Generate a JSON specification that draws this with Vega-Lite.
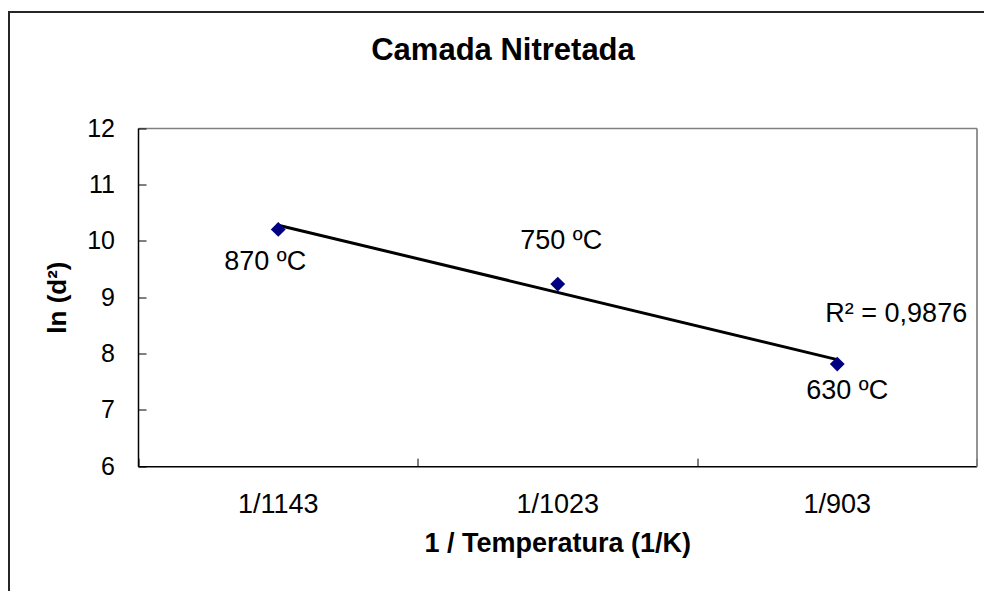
{
  "$schema": "https://vega.github.io/schema/vega-lite/v6.json",
  "autosize": {"type": "none"},
  "padding": {"left": 9, "top": 12, "right": 0, "bottom": 0},
  "width": 975,
  "height": 579,
  "background": "white",
  "config": {
    "view": {"stroke": "#262626", "strokeWidth": 2, "strokeDash": [975, 1554, 579, 2000]},
    "font": "Liberation Sans",
    "axis": {"translate": 0, "grid": false}
  },
  "title": {
    "text": "Camada Nitretada",
    "font": "Liberation Sans",
    "fontWeight": "bold",
    "fontSize": 31,
    "color": "black",
    "anchor": "middle",
    "frame": "group",
    "baseline": "alphabetic",
    "offset": -79,
    "dx": 6.5
  },
  "datasets": {
    "points": [
      {"t": "1/1143", "lnd2": 10.21, "temp": "870 ºC"},
      {"t": "1/1023", "lnd2": 9.24, "temp": "750 ºC"},
      {"t": "1/903", "lnd2": 7.82, "temp": "630 ºC"}
    ],
    "trend": [
      {"t": "1/1143", "lnd2": 10.285},
      {"t": "1/903", "lnd2": 7.9}
    ]
  },
  "layer": [
    {
      "data": {"name": "trend"},
      "mark": {"type": "line", "color": "black", "strokeWidth": 3},
      "encoding": {
        "x": {
          "field": "t", "type": "ordinal", "sort": ["1/1143", "1/1023", "1/903"],
          "scale": {"type": "band", "range": [129.5, 968], "paddingInner": 0, "paddingOuter": 0},
          "axis": {"orient": "top", "offset": -116.5, "domainColor": "#808080", "domainWidth": 1.7, "ticks": false, "labels": false, "title": null}
        },
        "y": {
          "field": "lnd2", "type": "quantitative",
          "scale": {"domain": [6, 12], "range": [454.7, 116.5], "nice": false, "zero": false},
          "axis": {"orient": "right", "offset": -7, "domainColor": "#808080", "domainWidth": 1.7, "ticks": false, "labels": false, "title": null}
        }
      }
    },
    {
      "data": {"name": "points"},
      "mark": {"type": "point", "shape": "diamond", "filled": true, "color": "#000080", "size": 220, "opacity": 1},
      "encoding": {
        "x": {
          "field": "t", "type": "ordinal", "sort": ["1/1143", "1/1023", "1/903"],
          "axis": {
            "orient": "bottom", "offset": -124.3, "tickBand": "extent",
            "domainColor": "black", "domainWidth": 1.5, "tickColor": "black", "tickSize": -8,
            "labelAngle": 0, "labelFont": "Liberation Sans", "labelFontSize": 27, "labelColor": "black", "labelPadding": 33,
            "title": "1 / Temperatura (1/K)", "titleFont": "Liberation Sans", "titleFontSize": 27, "titleFontWeight": "bold", "titleColor": "black", "titlePadding": 13
          }
        },
        "y": {
          "field": "lnd2", "type": "quantitative",
          "axis": {
            "orient": "left", "offset": -129.5, "values": [6, 7, 8, 9, 10, 11, 12],
            "domainColor": "black", "domainWidth": 1.5, "tickColor": "black", "tickSize": -8,
            "labelFont": "Liberation Sans", "labelFontSize": 25, "labelColor": "black", "labelPadding": 31.5,
            "title": "ln (d²)", "titleFont": "Liberation Sans", "titleFontSize": 26, "titleFontWeight": "bold", "titleColor": "black", "titlePadding": 16
          }
        }
      }
    },
    {
      "data": {"name": "points"},
      "transform": [{"filter": "datum.temp === '870 ºC'"}],
      "mark": {"type": "text", "font": "Liberation Sans", "fontSize": 27, "color": "black", "align": "center", "baseline": "middle", "dx": -13, "dy": 33},
      "encoding": {
        "x": {"field": "t", "type": "ordinal", "sort": ["1/1143", "1/1023", "1/903"], "axis": null},
        "y": {"field": "lnd2", "type": "quantitative", "axis": null},
        "text": {"field": "temp"}
      }
    },
    {
      "data": {"name": "points"},
      "transform": [{"filter": "datum.temp === '750 ºC'"}],
      "mark": {"type": "text", "font": "Liberation Sans", "fontSize": 27, "color": "black", "align": "center", "baseline": "middle", "dx": 3.5, "dy": -43},
      "encoding": {
        "x": {"field": "t", "type": "ordinal", "sort": ["1/1143", "1/1023", "1/903"], "axis": null},
        "y": {"field": "lnd2", "type": "quantitative", "axis": null},
        "text": {"field": "temp"}
      }
    },
    {
      "data": {"name": "points"},
      "transform": [{"filter": "datum.temp === '630 ºC'"}],
      "mark": {"type": "text", "font": "Liberation Sans", "fontSize": 27, "color": "black", "align": "center", "baseline": "middle", "dx": 10, "dy": 27},
      "encoding": {
        "x": {"field": "t", "type": "ordinal", "sort": ["1/1143", "1/1023", "1/903"], "axis": null},
        "y": {"field": "lnd2", "type": "quantitative", "axis": null},
        "text": {"field": "temp"}
      }
    },
    {
      "data": {"name": "trend"},
      "transform": [{"filter": "datum.t === '1/903'"}],
      "mark": {"type": "text", "font": "Liberation Sans", "fontSize": 27, "color": "black", "align": "center", "baseline": "middle", "dx": 59, "dy": -46},
      "encoding": {
        "x": {"field": "t", "type": "ordinal", "sort": ["1/1143", "1/1023", "1/903"], "axis": null},
        "y": {"field": "lnd2", "type": "quantitative", "axis": null},
        "text": {"value": "R² = 0,9876"}
      }
    }
  ],
  "resolve": {"axis": {"x": "independent", "y": "independent"}}
}
